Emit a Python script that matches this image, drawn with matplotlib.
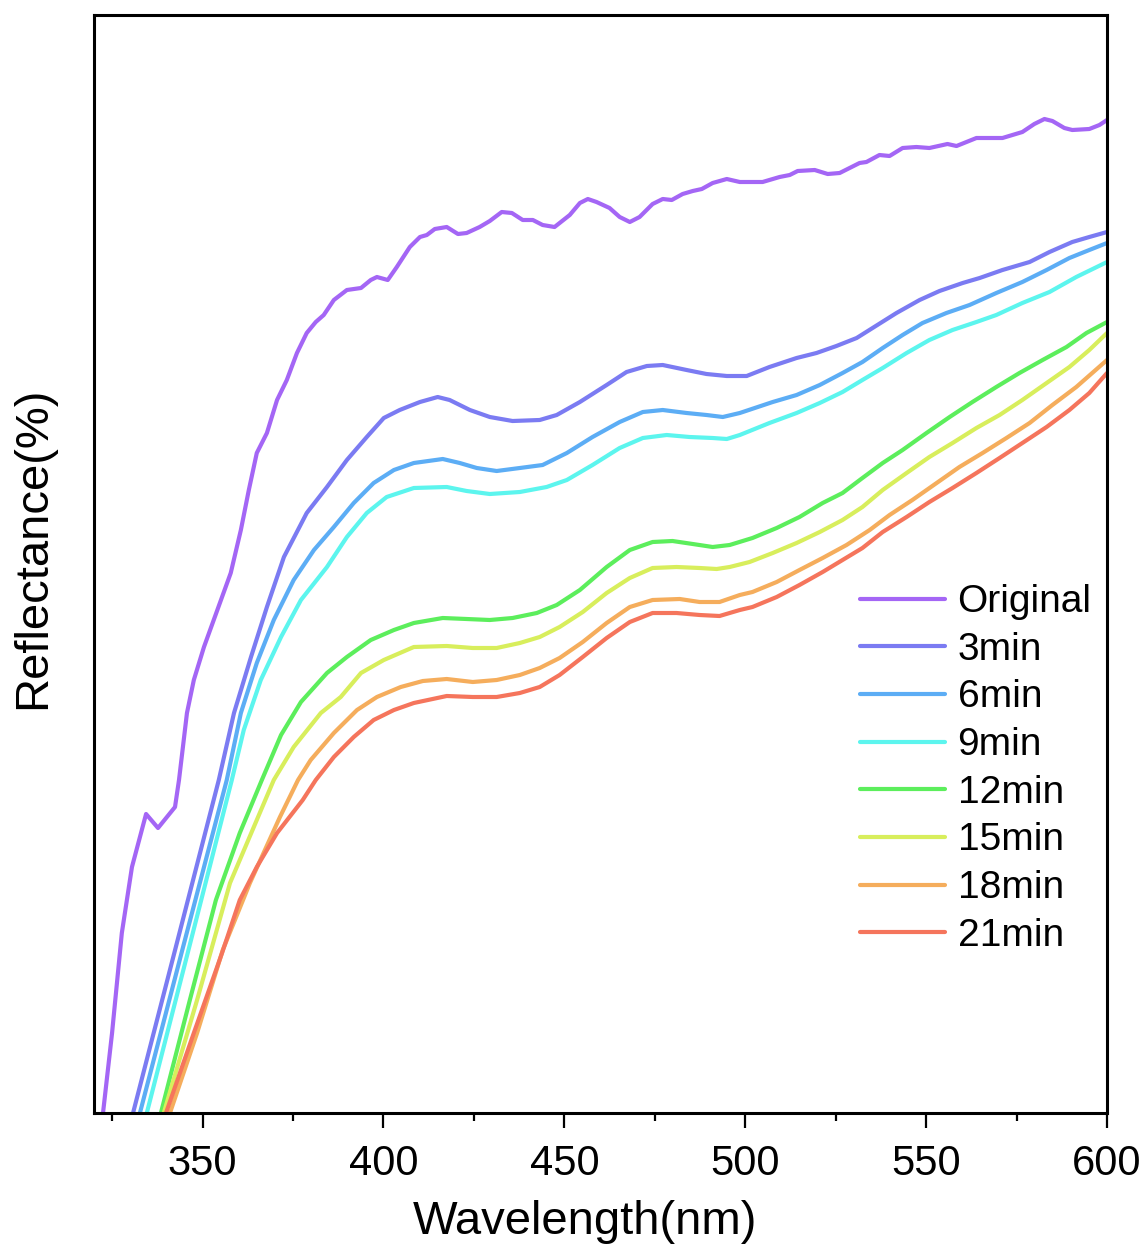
import matplotlib.pyplot as plt
from matplotlib.ticker import MultipleLocator

plt.rcParams["font.family"] = ["Liberation Sans", "DejaVu Sans"]

# wavelength (nm) / reflectance (arbitrary %)
wl_orig = [322.5, 325.0, 327.7, 330.5, 334.4, 337.7, 342.4, 343.5, 345.7, 347.6, 350.4, 355.1, 357.8,
           360.6, 362.8, 365.0, 367.8, 370.6, 373.3, 376.1, 378.8, 381.3, 383.5, 386.3, 389.9, 393.8,
           396.5, 398.2, 401.2, 403.7, 407.3, 410.1, 412.0, 414.2, 417.5, 420.6, 423.0, 426.6, 429.4,
           432.7, 435.5, 438.5, 441.3, 444.0, 447.3, 451.5, 454.3, 456.5, 458.9, 462.5, 465.3, 468.1,
           470.8, 474.4, 477.2, 479.7, 482.7, 485.5, 488.0, 491.0, 494.9, 498.5, 504.8, 509.5, 512.3,
           514.5, 519.2, 522.8, 526.1, 531.6, 533.5, 537.1, 539.9, 543.5, 547.3, 550.9, 555.9, 558.4,
           563.9, 571.1, 576.6, 579.9, 582.7, 584.9, 588.2, 590.4, 595.1, 597.9, 600.0]
r_orig = [0.0, 8.0, 18.0, 24.6, 29.9, 28.5, 30.6, 33.3, 40.0, 43.3, 46.6, 51.3, 54.0,
          58.3, 62.3, 66.0, 68.0, 71.3, 73.3, 76.0, 78.0, 79.1, 79.8, 81.3, 82.3, 82.5,
          83.3, 83.6, 83.3, 84.6, 86.6, 87.6, 87.8, 88.4, 88.6, 87.9, 88.0, 88.6, 89.2,
          90.1, 90.0, 89.3, 89.3, 88.8, 88.6, 89.8, 91.0, 91.4, 91.1, 90.5, 89.6, 89.1,
          89.6, 90.9, 91.4, 91.3, 91.9, 92.2, 92.4, 93.0, 93.4, 93.1, 93.1, 93.6, 93.8,
          94.2, 94.3, 93.9, 94.0, 95.0, 95.1, 95.8, 95.7, 96.5, 96.6, 96.5, 96.9, 96.7,
          97.5, 97.5, 98.1, 98.9, 99.4, 99.2, 98.5, 98.3, 98.4, 98.8, 99.3]

wl_3 = [330.8, 342.7, 354.5, 358.7, 363.4, 367.8, 372.5, 378.8, 384.4, 389.9, 395.4, 400.1, 404.5,
        410.1, 415.0, 418.3, 423.9, 429.4, 435.7, 443.2, 447.9, 454.3, 461.7, 467.2, 472.8, 477.2,
        483.8, 489.3, 494.9, 500.4, 506.7, 514.2, 519.7, 525.2, 530.8, 535.2, 541.8, 548.2, 553.7,
        560.1, 564.8, 571.1, 578.6, 584.1, 590.4, 595.1, 600.0]
r_3 = [0.0, 16.7, 33.3, 40.0, 45.6, 50.6, 55.6, 60.0, 62.6, 65.3, 67.6, 69.5, 70.3,
       71.1, 71.6, 71.3, 70.3, 69.6, 69.2, 69.3, 69.8, 71.1, 72.8, 74.1, 74.7, 74.8,
       74.3, 73.9, 73.7, 73.7, 74.6, 75.5, 76.0, 76.7, 77.5, 78.5, 80.0, 81.3, 82.2,
       83.0, 83.5, 84.3, 85.1, 86.1, 87.1, 87.6, 88.1]

wl_6 = [332.7, 344.7, 356.7, 360.6, 365.0, 369.7, 375.2, 380.8, 386.3, 391.8, 397.3, 402.9, 408.4,
        416.4, 421.1, 425.8, 431.3, 437.7, 444.0, 450.7, 457.8, 465.3, 471.7, 477.2, 483.8, 489.3,
        493.8, 498.5, 507.6, 514.2, 520.6, 526.9, 532.4, 538.0, 543.5, 549.0, 555.6, 562.0, 569.4,
        576.6, 583.3, 589.6, 595.1, 600.0]
r_6 = [0.0, 16.7, 33.3, 40.0, 45.0, 49.3, 53.3, 56.3, 58.6, 61.0, 63.0, 64.3, 65.0,
       65.4, 65.0, 64.5, 64.2, 64.5, 64.8, 66.0, 67.6, 69.1, 70.1, 70.3, 70.0, 69.8,
       69.6, 70.0, 71.1, 71.8, 72.8, 74.0, 75.1, 76.5, 77.8, 79.0, 80.0, 80.8, 82.0,
       83.1, 84.3, 85.5, 86.3, 87.0]

wl_9 = [334.6, 346.4, 358.1, 361.4, 366.1, 371.7, 377.2, 384.4, 389.9, 395.4, 400.9, 408.4, 417.5,
        423.0, 429.4, 437.7, 445.1, 450.7, 457.8, 465.3, 471.7, 478.3, 484.6, 491.0, 494.9, 498.5,
        506.7, 514.2, 520.6, 526.9, 532.4, 538.0, 544.6, 550.9, 557.3, 563.9, 569.4, 576.6, 584.1,
        591.5, 600.0]
r_9 = [0.0, 16.7, 33.3, 38.3, 43.3, 47.6, 51.3, 54.6, 57.6, 60.0, 61.6, 62.5, 62.6,
       62.2, 61.9, 62.1, 62.6, 63.3, 64.8, 66.5, 67.5, 67.8, 67.6, 67.5, 67.4, 67.8,
       69.0, 70.0, 71.0, 72.1, 73.3, 74.5, 76.0, 77.3, 78.3, 79.1, 79.8, 81.0, 82.1,
       83.6, 85.1]

wl_12 = [338.5, 346.5, 353.7, 360.3, 366.4, 371.7, 377.2, 384.4, 389.9, 396.5, 402.9, 408.4, 416.4,
         423.0, 429.4, 435.7, 442.4, 447.9, 454.3, 461.7, 468.1, 474.4, 479.9, 485.5, 491.0, 495.7,
         502.0, 508.7, 515.0, 521.4, 526.9, 532.4, 538.0, 543.5, 550.1, 556.5, 562.8, 569.4, 575.8,
         582.2, 588.8, 594.3, 600.0]
r_12 = [0.0, 11.3, 21.3, 28.0, 33.3, 37.8, 41.1, 44.0, 45.6, 47.3, 48.3, 49.0, 49.5,
        49.4, 49.3, 49.5, 50.0, 50.8, 52.3, 54.6, 56.3, 57.1, 57.2, 56.9, 56.6, 56.8,
        57.5, 58.5, 59.6, 61.0, 62.0, 63.5, 65.0, 66.3, 68.0, 69.6, 71.1, 72.6, 74.0,
        75.3, 76.6, 78.0, 79.1]

wl_15 = [339.3, 348.5, 357.6, 369.7, 375.2, 382.7, 388.2, 393.8, 400.1, 408.4, 417.5, 424.7, 431.3,
         437.7, 443.2, 448.7, 455.1, 461.7, 468.1, 474.4, 481.0, 487.4, 492.1, 495.7, 501.2, 507.6,
         514.2, 520.6, 526.9, 532.4, 538.0, 544.6, 550.9, 557.3, 563.9, 570.3, 576.6, 583.3, 589.6,
         595.1, 600.0]
r_15 = [0.0, 11.3, 23.0, 33.3, 36.6, 40.0, 41.6, 44.0, 45.3, 46.6, 46.7, 46.5, 46.5,
        47.0, 47.6, 48.6, 50.1, 52.0, 53.5, 54.5, 54.6, 54.5, 54.4, 54.6, 55.1, 56.0,
        57.0, 58.1, 59.3, 60.6, 62.3, 64.0, 65.6, 67.0, 68.5, 69.8, 71.3, 73.0, 74.6,
        76.3, 78.0]

wl_18 = [341.0, 348.5, 355.6, 363.1, 371.4, 376.4, 379.9, 386.3, 392.7, 398.2, 404.8, 410.9, 417.5,
         424.7, 431.3, 437.7, 443.2, 448.7, 455.1, 461.7, 468.1, 474.4, 481.9, 487.4, 492.9, 498.5,
         502.0, 508.7, 515.0, 521.4, 528.0, 534.4, 539.9, 546.2, 552.9, 559.2, 565.6, 572.2, 578.6,
         584.9, 591.5, 600.0]
r_18 = [0.0, 8.0, 16.3, 23.0, 29.6, 33.3, 35.3, 38.0, 40.3, 41.6, 42.6, 43.2, 43.4,
        43.1, 43.3, 43.8, 44.5, 45.5, 47.1, 49.0, 50.6, 51.3, 51.4, 51.1, 51.1, 51.8,
        52.1, 53.1, 54.3, 55.5, 56.8, 58.3, 59.8, 61.3, 63.0, 64.6, 66.0, 67.5, 69.0,
        70.8, 72.6, 75.3]

wl_21 = [339.9, 347.6, 355.4, 360.3, 365.0, 370.6, 377.7, 381.3, 386.3, 391.8, 397.3, 402.9, 408.4,
         417.5, 424.7, 431.3, 437.7, 443.2, 448.7, 455.1, 461.7, 468.1, 474.4, 481.0, 487.4, 492.9,
         498.5, 502.0, 508.7, 515.0, 521.4, 526.9, 532.4, 538.0, 544.6, 550.9, 557.3, 563.9, 570.3,
         576.6, 583.3, 589.6, 595.1, 600.0]
r_21 = [0.0, 8.0, 16.0, 21.3, 24.6, 28.0, 31.3, 33.3, 35.6, 37.6, 39.3, 40.3, 41.0,
        41.7, 41.6, 41.6, 42.0, 42.6, 43.8, 45.6, 47.5, 49.1, 50.0, 50.0, 49.8, 49.7,
        50.3, 50.6, 51.6, 52.8, 54.1, 55.3, 56.5, 58.1, 59.6, 61.1, 62.5, 64.0, 65.5,
        67.0, 68.6, 70.3, 72.0, 74.0]

labels = ["Original", "3min", "6min", "9min", "12min", "15min", "18min", "21min"]
colors = ["#a466f5", "#7b7bf2", "#5cadf5", "#5cf5ee", "#5cee5c", "#d8ee5c", "#f5ad5c", "#f5755c"]
series = [(wl_orig, r_orig), (wl_3, r_3), (wl_6, r_6), (wl_9, r_9),
          (wl_12, r_12), (wl_15, r_15), (wl_18, r_18), (wl_21, r_21)]

fig = plt.figure(figsize=(11.46, 12.5), dpi=100)
ax = fig.add_axes([0.082, 0.1096, 0.884, 0.8784])

for (wl, r), lab, col in zip(series, labels, colors):
    ax.plot(wl, r, color=col, lw=3, label=lab, solid_capstyle="round",
            solid_joinstyle="round")

ax.set_xlim(320, 600)
ax.set_ylim(0, 109.8)
ax.set_yticks([])
ax.xaxis.set_major_locator(MultipleLocator(50))
ax.xaxis.set_minor_locator(MultipleLocator(25))
ax.tick_params(axis="x", which="major", direction="out", length=11, width=1.6,
               labelsize=30, pad=11)
ax.tick_params(axis="x", which="minor", direction="out", length=6, width=1.6)
for sp in ax.spines.values():
    sp.set_linewidth(2.2)

ax.set_xlabel("Wavelength(nm)", fontsize=34, labelpad=12)
ax.xaxis.label.set_x(0.485)
ax.set_ylabel("Reflectance(%)", fontsize=34, labelpad=28)
ax.yaxis.label.set_y(0.515)

ax.legend(loc="upper left", bbox_to_anchor=(0.725, 0.51), frameon=False,
          fontsize=28, handlelength=2.2, handletextpad=0.32, labelspacing=0.3,
          borderpad=0.3)

fig.savefig("out.png", dpi=100)
